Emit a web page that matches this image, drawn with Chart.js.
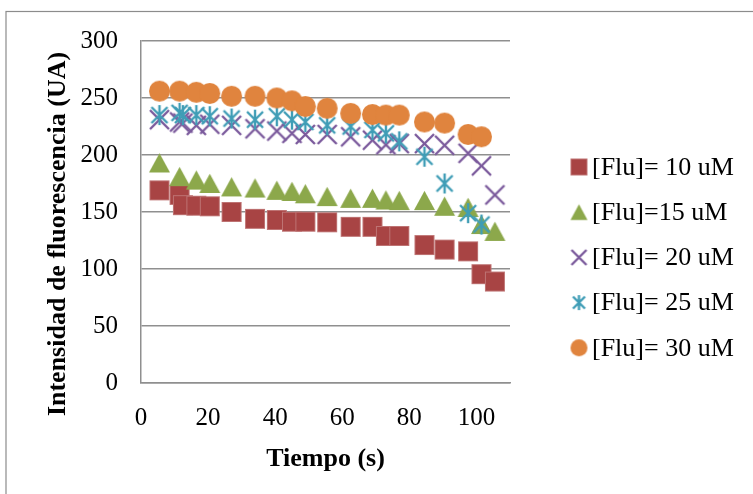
<!DOCTYPE html>
<html>
<head>
<meta charset="utf-8">
<script src="https://cdn.jsdelivr.net/npm/chart.js@4.4.1/dist/chart.umd.min.js"></script>
<style>
  body { margin: 0; background: #fff; }
  canvas { display: block; }
</style>
</head>
<body>
<canvas id="fluChart" width="753" height="494"></canvas>
<script>
// Tiempo (s) de cada lectura
const tiempo = [5.5, 11.5, 12.5, 16.5, 20.5, 27, 34, 40.5, 45, 49, 55.5, 62.5, 69, 73, 77, 84.5, 90.5, 97.5, 101.5, 105.5];

// Intensidad de fluorescencia (UA) para cada concentración
const flu10 = [169, 165, 156, 155.5, 155, 150, 144, 143, 141.5, 141.5, 141, 137, 137, 129, 129, 121, 117, 115.5, 95.5, 89];
const flu15 = [193, 181, null, 178, 175, 172, 171, 169, 168, 166, 163.5, 162, 162, 160.5, 160, 160, 155, 154, 139, 133];
const flu20 = [231, 229, 228, 226, 227, 226, 223, 221, 219, 218, 218, 216, 213, 209, 210, 210, 208.5, 201.5, 190.5, 165];
const flu25 = [235, 237, 235, 235, 234, 232, 231, 234, 231, 229, 226, 225, 222, 219, 212, 198.5, 175, 149, 139, null];
const flu30 = [256, 256, null, 255, 254, 251.5, 251.5, 250, 247.5, 242.5, 241, 236.5, 235.5, 235, 235, 229, 228, 218, 216, null];

const seriesLabels = ['[Flu]= 10 uM', '[Flu]=15 uM', '[Flu]= 20 uM', '[Flu]= 25 uM', '[Flu]= 30 uM'];
const xTicks = [0, 20, 40, 60, 80, 100];
const yTicks = [0, 50, 100, 150, 200, 250, 300];

const FONT = "'Liberation Serif', 'Times New Roman', serif";
const GRID = '#8f8f8f';

// marker sprites (drawn once, used as pointStyle)
function marker(kind, size, color) {
  const pad = 3;
  const c = document.createElement('canvas');
  c.width = c.height = size + pad * 2;
  const g = c.getContext('2d');
  const m = c.width / 2, h = size / 2;
  g.fillStyle = color;
  g.strokeStyle = color;
  g.lineCap = 'butt';
  if (kind === 'square') {
    g.fillRect(m - h, m - h, size, size);
    g.strokeStyle = 'rgba(255,255,255,0.25)';
    g.lineWidth = 1;
    g.strokeRect(m - h + 0.5, m - h + 0.5, size - 1, size - 1);
  } else if (kind === 'triangle') {
    g.beginPath();
    g.moveTo(m, m - size * 0.47);
    g.lineTo(m + h, m + size * 0.45);
    g.lineTo(m - h, m + size * 0.45);
    g.closePath();
    g.fill();
  } else if (kind === 'circle') {
    g.beginPath();
    g.arc(m, m, h, 0, Math.PI * 2);
    g.fill();
  } else if (kind === 'cross') {
    g.lineWidth = 2.4;
    g.beginPath();
    g.moveTo(m - h, m - h); g.lineTo(m + h, m + h);
    g.moveTo(m + h, m - h); g.lineTo(m - h, m + h);
    g.stroke();
  } else if (kind === 'star') {
    g.lineWidth = 2.4;
    const d = h * 0.8;
    g.beginPath();
    g.moveTo(m, m - h); g.lineTo(m, m + h);
    g.moveTo(m - d, m - d); g.lineTo(m + d, m + d);
    g.moveTo(m + d, m - d); g.lineTo(m - d, m + d);
    g.stroke();
  }
  return c;
}

const colors = ['#a84444', '#8ca84b', '#7b5a9c', '#3f9db6', '#e0843e'];
const kinds = ['square', 'triangle', 'cross', 'star', 'circle'];
const sizes = [20, 21, 19, 20, 21];
const plotMarks = kinds.map((k, i) => marker(k, sizes[i], colors[i]));
const legendMarks = kinds.map((k, i) => marker(k, k === 'cross' || k === 'star' ? 15 : 17, colors[i]));

function points(vals) {
  return tiempo.map((t, i) => vals[i] == null ? null : { x: t, y: vals[i] }).filter(p => p);
}

const allSeries = [flu10, flu15, flu20, flu25, flu30];

// outer frame, rotated y title and the series key on the right
const decor = {
  id: 'decor',
  beforeDraw(chart) {
    const c = chart.ctx;
    c.save();
    c.fillStyle = '#fff';
    c.fillRect(0, 0, chart.width, chart.height);
    c.strokeStyle = '#8c8c8c';
    c.lineWidth = 1.2;
    c.strokeRect(6, 11.5, 900, 700);
    c.restore();
  },
  afterDraw(chart) {
    const c = chart.ctx;
    c.save();
    c.fillStyle = '#000';
    c.textBaseline = 'middle';

    c.save();
    c.translate(58, 234);
    c.rotate(-Math.PI / 2);
    c.font = 'bold 26px ' + FONT;
    c.textAlign = 'center';
    c.fillText('Intensidad de fluorescencia (UA)', 0, 0);
    c.restore();

    c.font = '26px ' + FONT;
    c.textAlign = 'left';
    chart.data.datasets.forEach((ds, i) => {
      const y = 167 + i * 45.2;
      const m = legendMarks[i];
      c.drawImage(m, 579 - m.width / 2, y - m.height / 2);
      c.fillText(ds.label, 592, y + 1);
    });
    c.restore();
  }
};

Chart.defaults.font.family = FONT;
Chart.defaults.color = '#000';

const ctx = document.getElementById('fluChart').getContext('2d');
new Chart(ctx, {
  type: 'scatter',
  data: {
    datasets: allSeries.map((vals, i) => ({
      label: seriesLabels[i],
      data: points(vals),
      pointStyle: plotMarks[i],
      backgroundColor: colors[i],
      borderColor: colors[i],
      order: allSeries.length - i
    }))
  },
  options: {
    responsive: false,
    animation: false,
    layout: { padding: { left: 0, top: 41, right: 243, bottom: 21 } },
    scales: {
      x: {
        type: 'linear',
        position: 'bottom',
        min: 0,
        max: 110,
        afterBuildTicks: s => { s.ticks = xTicks.map(v => ({ value: v })); },
        afterFit: s => { s.height = 90; },
        grid: { display: false, drawTicks: false },
        border: { color: GRID, width: 1.5 },
        ticks: { font: { size: 25 }, padding: 20, maxRotation: 0 },
        title: {
          display: true,
          text: 'Tiempo (s)',
          font: { size: 26, weight: 'bold' },
          padding: { top: 0, bottom: -2 }
        }
      },
      y: {
        type: 'linear',
        position: 'left',
        min: 0,
        max: 300,
        afterBuildTicks: s => { s.ticks = yTicks.map(v => ({ value: v })); },
        afterFit: s => { s.width = 141; },
        grid: { color: GRID, lineWidth: 1.5, drawTicks: false },
        border: { color: GRID, width: 1.5 },
        ticks: { font: { size: 25 }, padding: 23 }
      }
    },
    plugins: {
      tooltip: { enabled: false },
      legend: { display: false }
    }
  },
  plugins: [decor]
});
</script>
</body>
</html>
